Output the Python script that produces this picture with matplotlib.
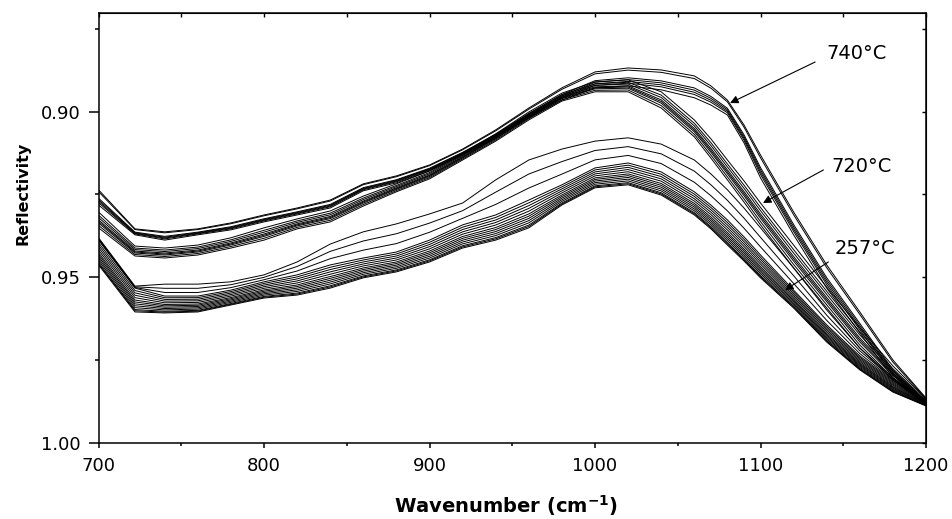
import matplotlib
matplotlib.use("Agg")
import matplotlib.pyplot as plt
import numpy as np
from matplotlib.ticker import FormatStrFormatter, MultipleLocator

plt.rcParams["font.family"] = ["DejaVu Sans"]
plt.rcParams["mathtext.fontset"] = "dejavusans"

# wavenumber grid (cm-1) the spectra were read at
wavenumber = [700, 722, 740, 760, 780, 800, 820, 840, 860, 880, 900, 920, 940, 960, 980,
              1000, 1020, 1040, 1060, 1070, 1080, 1090, 1100, 1120, 1140, 1160, 1180, 1200]

# 740 C bundle: edges of the band of spectra
t740_edge1 = [0.9236, 0.9354, 0.9363, 0.9354, 0.9336, 0.9312, 0.9291, 0.9267, 0.9218, 0.9194,
              0.9161, 0.9113, 0.9055, 0.8989, 0.8928, 0.8880, 0.8868, 0.8874, 0.8892, 0.8922,
              0.8965, 0.9040, 0.9131, 0.9303, 0.9463, 0.9605, 0.9750, 0.9865]
t740_edge2 = [0.9282, 0.9372, 0.9388, 0.9372, 0.9357, 0.9333, 0.9312, 0.9291, 0.9239, 0.9215,
              0.9179, 0.9131, 0.9079, 0.9019, 0.8965, 0.8928, 0.8922, 0.8934, 0.8958, 0.8980,
              0.9010, 0.9094, 0.9200, 0.9372, 0.9533, 0.9668, 0.9804, 0.9886]
t740_pos = [0.0, 0.12, 0.55, 0.65, 0.75, 0.85, 1.0]

# 720 C bundle
t720_edge1 = [0.9303, 0.9406, 0.9412, 0.9403, 0.9381, 0.9351, 0.9324, 0.9300, 0.9255, 0.9218,
              0.9179, 0.9125, 0.9067, 0.9001, 0.8944, 0.8910, 0.8904, 0.8940, 0.9025, 0.9082,
              0.9146, 0.9209, 0.9276, 0.9403, 0.9530, 0.9653, 0.9768, 0.9868]
t720_edge2 = [0.9351, 0.9436, 0.9442, 0.9433, 0.9412, 0.9388, 0.9354, 0.9333, 0.9285, 0.9242,
              0.9203, 0.9146, 0.9089, 0.9025, 0.8968, 0.8940, 0.8940, 0.8989, 0.9076, 0.9140,
              0.9206, 0.9273, 0.9342, 0.9472, 0.9593, 0.9714, 0.9810, 0.9886]
t720_pos = [0.0, 0.2, 0.35, 0.5, 0.6, 0.7, 0.85, 1.0]

# 257 C bundle
t257_edge1 = [0.9388, 0.9533, 0.9557, 0.9557, 0.9539, 0.9514, 0.9493, 0.9463, 0.9442, 0.9424,
              0.9388, 0.9342, 0.9312, 0.9267, 0.9221, 0.9170, 0.9155, 0.9182, 0.9242, 0.9282,
              0.9327, 0.9378, 0.9433, 0.9539, 0.9644, 0.9738, 0.9813, 0.9871]
t257_edge2 = [0.9463, 0.9605, 0.9608, 0.9605, 0.9584, 0.9563, 0.9554, 0.9533, 0.9502, 0.9484,
              0.9454, 0.9412, 0.9388, 0.9351, 0.9282, 0.9230, 0.9221, 0.9252, 0.9312, 0.9354,
              0.9403, 0.9451, 0.9502, 0.9593, 0.9696, 0.9780, 0.9847, 0.9889]
t257_pos = [0.0, 0.1, 0.2, 0.3, 0.4, 0.5, 0.58, 0.66, 0.74, 0.82, 0.9, 0.95, 1.0]

# intermediate spectra lying above the 257 C bundle
mid_edge = [0.9381, 0.9527, 0.9521, 0.9521, 0.9514, 0.9493, 0.9454, 0.9400, 0.9363, 0.9339,
            0.9309, 0.9276, 0.9206, 0.9146, 0.9113, 0.9089, 0.9079, 0.9098, 0.9146, 0.9188,
            0.9236, 0.9291, 0.9351, 0.9472, 0.9599, 0.9714, 0.9804, 0.9874]
mid_pos = [0.0, 0.35, 0.7]

labels = ["740°C", "720°C", "257°C"]
label_xy = [(1140, 0.8823), (1143, 0.9167), (1145, 0.9412)]
arrow_tail = [(1133, 0.8850), (1138, 0.9176), (1141, 0.9454)]
arrow_tip = [(1081.6, 0.8974), (1101.5, 0.9276), (1114.8, 0.9539)]


def bundle(edge1, edge2, positions):
    a = np.array(edge1)
    b = np.array(edge2)
    return [a + p * (b - a) for p in positions]


fig = plt.figure(figsize=(9.52, 5.19), dpi=100)
ax = fig.add_axes([0.1035, 0.1470, 0.8692, 0.8273])

curves = []
curves += bundle(t740_edge1, t740_edge2, t740_pos)
curves += bundle(t720_edge1, t720_edge2, t720_pos)
curves += bundle(mid_edge, t257_edge1, mid_pos)
curves += bundle(t257_edge1, t257_edge2, t257_pos)
for c in curves:
    ax.plot(wavenumber, c, color="black", lw=0.7)

for text, xy, tail, tip in zip(labels, label_xy, arrow_tail, arrow_tip):
    ax.text(xy[0], xy[1], text, fontsize=14, ha="left", va="center")
    ax.annotate("", xy=tip, xytext=tail,
                arrowprops=dict(arrowstyle="-|>", color="black", lw=0.8,
                                mutation_scale=12, shrinkA=0, shrinkB=0))

ax.set_xlim(700, 1200)
ax.set_ylim(1.0, 0.8703)
ax.xaxis.set_major_locator(MultipleLocator(100))
ax.xaxis.set_minor_locator(MultipleLocator(50))
ax.yaxis.set_major_locator(MultipleLocator(0.05))
ax.yaxis.set_minor_locator(MultipleLocator(0.025))
ax.yaxis.set_major_formatter(FormatStrFormatter("%.2f"))
ax.tick_params(axis="x", which="major", direction="out", length=3.6, width=1.1,
               labelsize=13, pad=7)
ax.tick_params(axis="x", which="minor", direction="out", length=2.4, width=1.1)
ax.tick_params(axis="y", which="major", direction="out", length=7, width=1.1,
               labelsize=13, pad=6)
ax.tick_params(axis="y", which="minor", direction="out", length=2.7, width=1.1)
for s in ax.spines.values():
    s.set_linewidth(1.1)

top = ax.secondary_xaxis("top")
top.xaxis.set_major_locator(MultipleLocator(50))
top.tick_params(direction="in", length=3, width=1.0, labeltop=False)
right = ax.secondary_yaxis("right")
right.yaxis.set_major_locator(MultipleLocator(0.025))
right.tick_params(direction="in", length=3, width=1.0, labelright=False)

fig.text(0.024, 0.628, "Reflectivity", rotation=90, fontsize=11.5,
         fontweight="bold", ha="center", va="center")
fig.text(0.531, 1 - 513 / 519, r"Wavenumber (cm$^{\mathbf{-1}}$)", fontsize=14,
         fontweight="bold", ha="center", va="baseline")

fig.savefig("out.png", dpi=100)
